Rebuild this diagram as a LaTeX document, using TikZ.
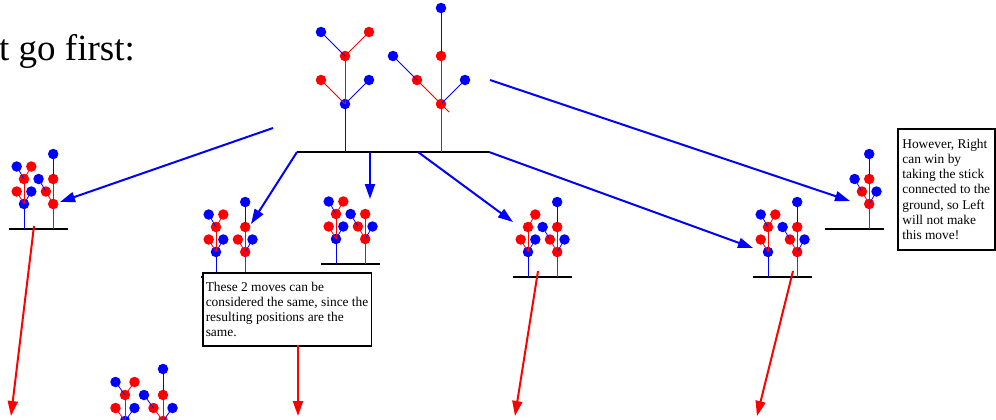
\documentclass[tikz,border=0pt]{standalone}
\usepackage{fontspec}
\setmainfont{Liberation Serif}
\usetikzlibrary{arrows.meta}

% #1 name, #2 foot of the first tree, #3 x unit, #4 y unit, #5 sticks (id/colour/below/x/y)
\newcommand\hackpos[5]{%
  \begin{scope}[shift={#2}, xscale=#3, yscale=-#4]
    \coordinate (#1-l) at (-2,0);
    \coordinate (#1-r) at (6,0);
    \coordinate (#1-g0) at (0,0);
    \coordinate (#1-g4) at (4,0);
    \draw[ground] (#1-l) -- (#1-r);
    \foreach \id/\c/\p/\x/\y in {#5}
      \node[dot, fill=\c] (#1-\id) at (\x,\y) {};
    \foreach \id/\c/\p/\x/\y in {#5}
      \draw[stick, \c] (#1-\p.center) -- (#1-\id.center);
  \end{scope}}

\begin{document}
\begin{tikzpicture}[x=1pt, y=-1pt, >={Triangle[length=15pt,width=10pt]},
    dot/.style={circle, inner sep=0pt, minimum size=10.5pt},
    stick/.style={line width=0.8pt},
    ground/.style={line width=1.6pt, black},
    move/.style={->, line width=2pt, blue},
    reply/.style={->, line width=2pt, red},
    note/.style={draw, line width=1.5pt, fill=white, align=left, anchor=north west,
      inner xsep=3pt, font=\fontsize{13.4}{15.2}\selectfont}]
  \useasboundingbox (0,0) rectangle (996,420);
  \clip (0,0) rectangle (996,420);

  \node[anchor=base west, inner sep=0pt, font=\fontsize{37}{40}\selectfont] (title) at (-1,61) {t go first:};

  % start position
  \hackpos{top}{(345,152)}{24}{24}{a1/blue/g0/0/2, a2/red/a1/-1/3, a3/blue/a1/1/3, a4/red/a1/0/4, a5/blue/a4/-1/5, a6/red/a4/1/5,
    b1/red/g4/4/2, b2/red/b1/3/3, b3/blue/b2/2/4, b4/blue/b1/5/3, b5/red/b1/4/4, b6/blue/b5/4/6}
  \draw[stick, red] (top-b1.center) -- +(8pt,-8pt);

  % Left's moves
  \hackpos{p1}{(24,229)}{7.3}{12.5}{a1/blue/g0/0/2, a2/red/a1/-1/3, a3/blue/a1/1/3, a4/red/a1/0/4, a5/blue/a4/-1/5, a6/red/a4/1/5,
    b1/red/g4/4/2, b2/red/b1/3/3, b3/blue/b2/2/4, b5/red/b1/4/4, b6/blue/b5/4/6}
  \hackpos{p2}{(216,277)}{7.3}{12.5}{a1/blue/g0/0/2, a2/red/a1/-1/3, a3/blue/a1/1/3, a4/red/a1/0/4, a5/blue/a4/-1/5, a6/red/a4/1/5,
    b1/red/g4/4/2, b2/red/b1/3/3, b4/blue/b1/5/3, b5/red/b1/4/4, b6/blue/b5/4/6}
  \hackpos{p3}{(336,264)}{7.3}{12.5}{a1/blue/g0/0/2, a2/red/a1/-1/3, a3/blue/a1/1/3, a4/red/a1/0/4, a5/blue/a4/-1/5, a6/red/a4/1/5,
    b1/red/g4/4/2, b2/red/b1/3/3, b3/blue/b2/2/4, b4/blue/b1/5/3, b5/red/b1/4/4}
  \hackpos{p4}{(528,277)}{7.3}{12.5}{a1/blue/g0/0/2, a2/red/a1/-1/3, a3/blue/a1/1/3, a4/red/a1/0/4, a6/red/a4/1/5,
    b1/red/g4/4/2, b2/red/b1/3/3, b3/blue/b2/2/4, b4/blue/b1/5/3, b5/red/b1/4/4, b6/blue/b5/4/6}
  \hackpos{p5}{(768,277)}{7.3}{12.5}{a1/blue/g0/0/2, a2/red/a1/-1/3, a4/red/a1/0/4, a5/blue/a4/-1/5, a6/red/a4/1/5,
    b1/red/g4/4/2, b2/red/b1/3/3, b3/blue/b2/2/4, b4/blue/b1/5/3, b5/red/b1/4/4, b6/blue/b5/4/6}
  \hackpos{p6}{(840,229)}{7.3}{12.5}{b1/red/g4/4/2, b2/red/b1/3/3, b3/blue/b2/2/4, b4/blue/b1/5/3, b5/red/b1/4/4, b6/blue/b5/4/6}

  % next row
  \hackpos{p7}{(125,447)}{9.5}{13}{a1/blue/g0/0/2, a2/red/a1/-1/3, a3/blue/a1/1/3, a4/red/a1/0/4, a5/blue/a4/-1/5, a6/red/a4/1/5,
    b1/red/g4/4/2, b2/red/b1/3/3, b3/blue/b2/2/4, b4/blue/b1/5/3, b5/red/b1/4/4, b6/blue/b5/4/6}

  \node[note, minimum width=168pt, minimum height=73pt] (samebox) at (202,272)
    {These 2 moves can be\\considered the same, since the\\resulting positions are the\\same.};
  \node[note, minimum width=97pt, minimum height=121pt] (rightbox) at (897,128)
    {However, Right\\can win by\\taking the stick\\connected to the\\ground, so Left\\will not make\\this move!};

  % ends of the arrows
  \coordinate (top-w) at (273,128);
  \coordinate (top-e) at (490,80);
  \coordinate (top-m1) at (370,152);
  \coordinate (top-m2) at (418,152);
  \coordinate (p1-in) at (60,202);
  \coordinate (p2-in) at (251,224);
  \coordinate (p3-in) at (370,199);
  \coordinate (p4-in) at (513,222);
  \coordinate (p5-in) at (753,248);
  \coordinate (p6-in) at (850,201);
  \draw[move] (top-w) -- (p1-in);
  \draw[move] (top-l) -- (p2-in);
  \draw[move] (top-m1) -- (p3-in);
  \draw[move] (top-m2) -- (p4-in);
  \draw[move] (top-r) -- (p5-in);
  \draw[move] (top-e) -- (p6-in);

  \coordinate (p1-out) at (34,226);
  \coordinate (p2-out) at (298,345);
  \coordinate (p4-out) at (538,271);
  \coordinate (p5-out) at (793,271);
  \coordinate (p1-end) at (11,416);
  \coordinate (p2-end) at (298,416);
  \coordinate (p4-end) at (515,416);
  \coordinate (p5-end) at (757,416);
  \draw[reply] (p1-out) -- (p1-end);
  \draw[reply] (p2-out) -- (p2-end);
  \draw[reply] (p4-out) -- (p4-end);
  \draw[reply] (p5-out) -- (p5-end);
\end{tikzpicture}
\end{document}
